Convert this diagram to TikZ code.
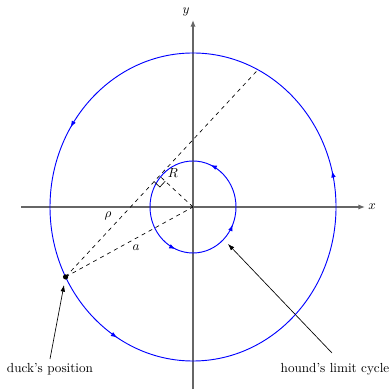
\documentclass[tikz,border=0pt]{standalone}
\usetikzlibrary{arrows.meta,decorations.markings,calc}
\begin{document}
\begin{tikzpicture}[x=0.76pt,y=0.76pt,
  axis/.style={draw=black!60,line width=1.1pt},
  orbit/.style={draw=blue,line width=0.7pt},
  dsh/.style={dashed,line width=0.5pt},
  note/.style={draw=black,line width=0.5pt,-{Latex[length=5pt,width=3.5pt]}}]
\useasboundingbox (0,0) rectangle (392,389);
\coordinate (C) at (193,182);
% axes
\coordinate (xl) at (21,182);
\coordinate (xr) at (365,182);
\coordinate (yb) at (193,0);
\coordinate (yt) at (193,369);
\draw[axis,-{Latex[length=5pt,width=4pt]}] (xl) -- (xr);
\draw[axis,-{Latex[length=5pt,width=4pt]}] (yb) -- (yt);
\node (xlab) at (372,182) {$x$};
\node (ylab) at (186,377) {$y$};
% orbits
\draw[orbit,postaction={decorate},decoration={markings,
  mark=at position 0.039 with {\arrow{Latex[length=5pt,width=3.5pt]}},
  mark=at position 0.411 with {\arrow{Latex[length=5pt,width=3.5pt]}},
  mark=at position 0.664 with {\arrow{Latex[length=5pt,width=3.5pt]}}}]
  (C) ellipse [x radius=143, y radius=154];
\draw[orbit,postaction={decorate},decoration={markings,
  mark=at position 0.186 with {\arrow{Latex[length=5pt,width=3.5pt]}},
  mark=at position 0.686 with {\arrow{Latex[length=5pt,width=3.5pt]}},
  mark=at position 0.936 with {\arrow{Latex[length=5pt,width=3.5pt]}}}]
  (C) ellipse [x radius=43, y radius=46];
% points
\coordinate (D) at ($(C)+(207:143 and 154)$);
\coordinate (E) at ($(C)+(63:143 and 154)$);
\coordinate (T) at ($(D)!(C)!(E)$);
\draw[dsh] (D) -- (E);
\draw[dsh] (D) -- (C);
\draw[dsh] (C) -- (T);
\coordinate (T1) at ($(T)!6pt!(D)$);
\coordinate (T2) at ($(T)!6pt!(C)$);
\coordinate (T3) at ($(T1)+(T2)-(T)$);
\draw[line width=0.5pt] (T1) -- (T3) -- (T2);
\fill (D) circle (2pt);
\node (R) at (173,216) {$R$};
\node (rho) at (108,173) {$\rho$};
\node (a) at (136,141) {$a$};
% annotations
\node (duck) at (50,20) {duck's position};
\node (hound) at (335,20) {hound's limit cycle};
\coordinate (dtip) at (64,104);
\coordinate (htip) at (228,145);
\draw[note] (50,30) -- (dtip);
\draw[note] (332,36) -- (htip);
\end{tikzpicture}
\end{document}
